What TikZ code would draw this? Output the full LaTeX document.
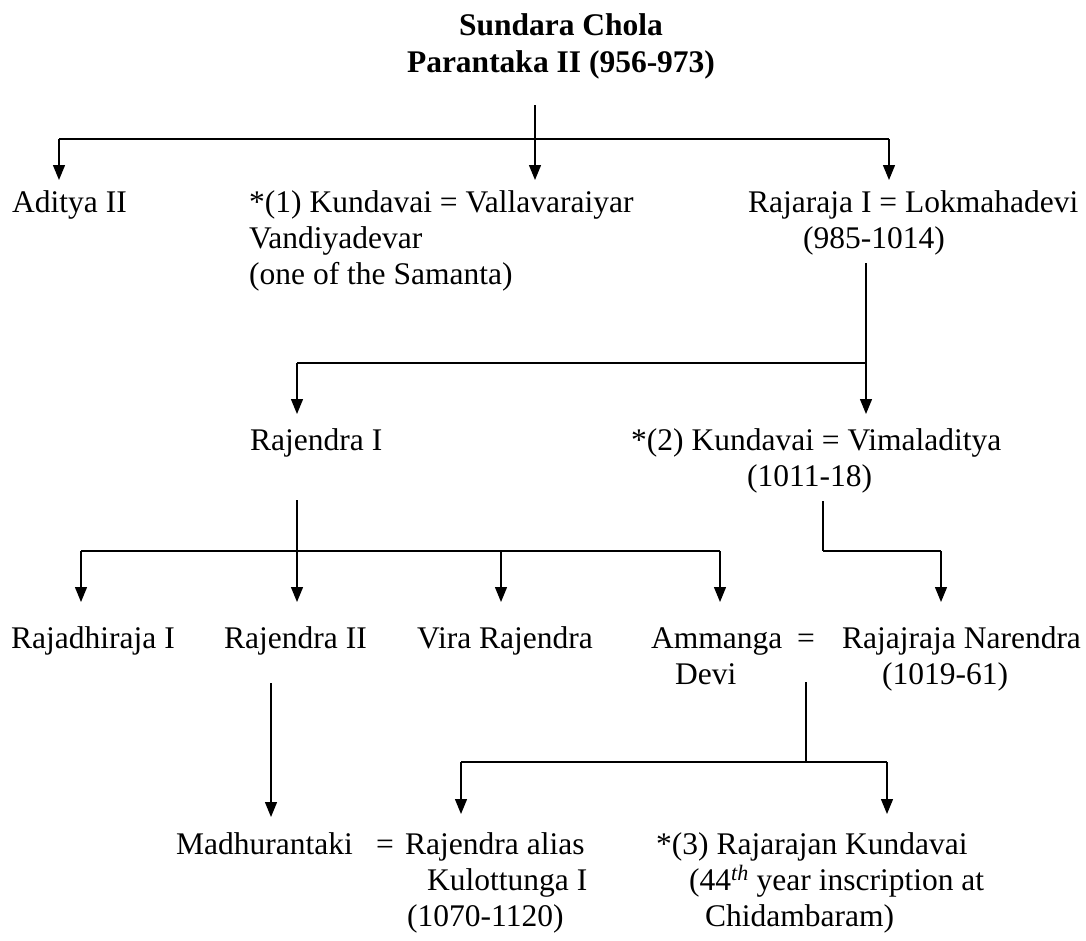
\documentclass[tikz,border=0pt]{standalone}
\usepackage{fontspec}
\setmainfont{Liberation Serif}
\usepackage{tikz}
\usetikzlibrary{arrows.meta,calc}

\tikzset{
    person/.style={anchor=base west, inner sep=0pt, align=left,
                   font=\fontsize{31.5}{36}\selectfont},
    spouse/.style={anchor=base, inner sep=0pt,
                   font=\fontsize{31.5}{36}\selectfont},
    stem/.style={line width=1.3pt},
    bar/.style={line width=2.4pt},
    drop/.style={-{Triangle[length=15pt,width=12pt]}, line width=1.3pt}
}

\begin{document}
\begin{tikzpicture}[x=1pt, y=-1pt]
        \useasboundingbox (0,0) rectangle (1086,940);

        % Parameters (baselines of the rows; a node sits on its last line)
        \def\rowOne{212}
        \def\rowTwo{450}
        \def\rowThree{648}
        \def\rowFour{854}
        \def\skipLine{36}

        % Founder
        \node[spouse, align=center, font=\fontsize{31.5}{37}\selectfont\bfseries] (sundara) at (561,72)
            {Sundara Chola\\Parantaka II (956-973)};

        % First generation
        \node[person] (aditya) at (12,\rowOne) {Aditya II};
        \node[person] (kundavaiOne) at (249,\rowOne+2*\skipLine)
            {*(1) Kundavai = Vallavaraiyar\\Vandiyadevar\\(one of the Samanta)};
        \node[person] (rajaraja) at (748,\rowOne+\skipLine)
            {Rajaraja I = Lokmahadevi\\\hspace*{55pt}(985-1014)};

        % Second generation
        \node[person] (rajendraOne) at (250,\rowTwo) {Rajendra I};
        \node[person] (kundavaiTwo) at (631,\rowTwo+\skipLine)
            {*(2) Kundavai = Vimaladitya\\\hspace*{116pt}(1011-18)};

        % Third generation
        \node[person] (rajadhiraja) at (11,\rowThree) {Rajadhiraja I};
        \node[person] (rajendraTwo) at (224,\rowThree) {Rajendra II};
        \node[person] (vira) at (417,\rowThree) {Vira Rajendra};
        \node[person] (ammanga) at (651,\rowThree+\skipLine) {Ammanga\\\hspace*{24pt}Devi};
        \node[spouse] (eqOne) at (806,\rowThree) {=};
        \node[person] (narendra) at (842,\rowThree+\skipLine)
            {Rajajraja Narendra\\\hspace*{40pt}(1019-61)};

        % Fourth generation
        \node[person] (madhurantaki) at (176,\rowFour) {Madhurantaki};
        \node[spouse] (eqTwo) at (385,\rowFour) {=};
        \node[person] (kulottunga) at (405,\rowFour+2*\skipLine)
            {Rajendra alias\\\hspace*{22pt}Kulottunga I\\\hspace*{2pt}(1070-1120)};
        \node[person] (kundavaiThree) at (656,\rowFour+2*\skipLine)
            {*(3) Rajarajan Kundavai\\\hspace*{33pt}(44\textsuperscript{\itshape th} year inscription at\\\hspace*{49pt}Chidambaram)};

        % Where the lines leave a parent
        \coordinate (sundara-out) at (535,105);
        \coordinate (rajaraja-out) at (866,263);
        \coordinate (rajendraOne-out) at (297,500);
        \coordinate (kundavaiTwo-out) at (823,501);
        \coordinate (rajendraTwo-out) at (271,683);
        \coordinate (ammanga-out) at (806,682);

        % Junctions on the bars
        \coordinate (j-sundara) at (535,139);
        \coordinate (j-rajaraja) at (866,363);
        \coordinate (j-rajendra) at (297,551);
        \coordinate (j-kundavai) at (823,551);
        \coordinate (j-ammanga) at (806,762);

        % Arrow tips above each child
        \coordinate (aditya-in) at (59,180);
        \coordinate (kundavaiOne-in) at (535,180);
        \coordinate (rajaraja-in) at (889,180);
        \coordinate (rajendraOne-in) at (297,414);
        \coordinate (kundavaiTwo-in) at (866,414);
        \coordinate (rajadhiraja-in) at (81,602);
        \coordinate (rajendraTwo-in) at (297,602);
        \coordinate (vira-in) at (501,602);
        \coordinate (ammanga-in) at (720,602);
        \coordinate (narendra-in) at (941,602);
        \coordinate (madhurantaki-in) at (271,817);
        \coordinate (kulottunga-in) at (461,814);
        \coordinate (kundavaiThree-in) at (887,814);

        % Sundara Chola -> children
        \draw[bar] (aditya-in |- j-sundara) -- (rajaraja-in |- j-sundara);
        \draw[drop] (sundara-out) -- (kundavaiOne-in);
        \draw[drop] (aditya-in |- j-sundara) -- (aditya-in);
        \draw[drop] (rajaraja-in |- j-sundara) -- (rajaraja-in);

        % Rajaraja I -> children
        \draw[bar] (rajendraOne-in |- j-rajaraja) -- (j-rajaraja);
        \draw[drop] (rajaraja-out) -- (kundavaiTwo-in);
        \draw[drop] (rajendraOne-in |- j-rajaraja) -- (rajendraOne-in);

        % Rajendra I -> children
        \draw[bar] (rajadhiraja-in |- j-rajendra) -- (ammanga-in |- j-rajendra);
        \draw[drop] (rajendraOne-out) -- (rajendraTwo-in);
        \foreach \child in {rajadhiraja, vira, ammanga} {
            \draw[drop] (\child-in |- j-rajendra) -- (\child-in);
        }

        % Kundavai (2) -> Rajajraja Narendra
        \draw[stem] (kundavaiTwo-out) -- (j-kundavai);
        \draw[bar] (j-kundavai) -- (narendra-in |- j-kundavai);
        \draw[drop] (narendra-in |- j-kundavai) -- (narendra-in);

        % Rajendra II -> Madhurantaki
        \draw[drop] (rajendraTwo-out) -- (madhurantaki-in);

        % Ammanga Devi and Rajajraja Narendra -> children
        \draw[stem] (ammanga-out) -- (j-ammanga);
        \draw[bar] (kulottunga-in |- j-ammanga) -- (kundavaiThree-in |- j-ammanga);
        \foreach \child in {kulottunga, kundavaiThree} {
            \draw[drop] (\child-in |- j-ammanga) -- (\child-in);
        }

    \end{tikzpicture}
\end{document}
